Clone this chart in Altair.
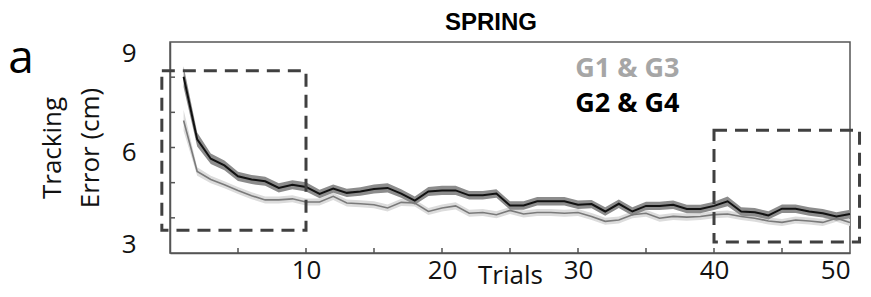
import altair as alt
import pandas as pd

trials = list(range(1, 51))
g24 = [8.01, 6.23, 5.68, 5.49, 5.18, 5.09, 5.04, 4.85, 4.94, 4.88,
       4.68, 4.83, 4.71, 4.75, 4.82, 4.85, 4.69, 4.49, 4.75, 4.78,
       4.78, 4.64, 4.64, 4.69, 4.35, 4.35, 4.47, 4.47, 4.47, 4.37,
       4.39, 4.18, 4.40, 4.18, 4.34, 4.34, 4.37, 4.25, 4.25, 4.34,
       4.47, 4.18, 4.16, 4.07, 4.26, 4.26, 4.18, 4.13, 4.04, 4.11]
g24_sem = [0.30, 0.20, 0.15, 0.14, 0.13, 0.13, 0.13, 0.13, 0.13, 0.13,
           0.12, 0.12, 0.12, 0.12, 0.13, 0.13, 0.12, 0.12, 0.13, 0.13,
           0.13, 0.12, 0.12, 0.12, 0.12, 0.12, 0.12, 0.12, 0.12, 0.12,
           0.12, 0.12, 0.12, 0.12, 0.12, 0.12, 0.12, 0.12, 0.12, 0.12,
           0.14, 0.12, 0.12, 0.12, 0.12, 0.12, 0.12, 0.12, 0.12, 0.12]
g13 = [6.77, 5.32, 5.09, 4.94, 4.78, 4.63, 4.51, 4.51, 4.54, 4.45,
       4.45, 4.61, 4.42, 4.40, 4.37, 4.28, 4.44, 4.42, 4.18, 4.28,
       4.34, 4.13, 4.15, 4.09, 4.21, 4.11, 4.15, 4.15, 4.13, 4.15,
       4.04, 3.90, 3.94, 4.09, 4.13, 3.99, 4.04, 4.02, 4.04, 4.09,
       4.11, 4.04, 3.99, 3.91, 3.87, 3.94, 3.91, 3.87, 3.99, 3.87]
g13_sem = [0.30, 0.12, 0.11, 0.10, 0.10, 0.10, 0.10, 0.10, 0.10, 0.10,
           0.10, 0.10, 0.10, 0.10, 0.10, 0.10, 0.10, 0.10, 0.10, 0.10,
           0.10, 0.10, 0.10, 0.10, 0.10, 0.10, 0.10, 0.10, 0.10, 0.10,
           0.10, 0.10, 0.10, 0.10, 0.10, 0.10, 0.10, 0.10, 0.10, 0.10,
           0.10, 0.10, 0.10, 0.10, 0.10, 0.10, 0.10, 0.10, 0.10, 0.10]

x_tick_values = [5, 10, 15, 20, 25, 30, 35, 40, 45]
y_tick_values = [4, 5, 6, 7, 8]
x_label_values = [10, 20, 30, 40, 50]
y_label_values = [3, 6, 9]

box_x1 = [-0.6, 40.0]
box_x2 = [10.0, 50.7]
box_y1 = [3.65, 3.31]
box_y2 = [8.18, 6.49]

legend_labels = ["G1 & G3", "G2 & G4"]
legend_colors = ["#a6a6a6", "#000000"]
legend_x = [29.8, 29.8]
legend_y = [8.23, 7.24]

FONT = "Open Sans"
W, H = 680, 211

rows = []
for i, t in enumerate(trials):
    rows.append({"trial": t, "group": "G1 & G3", "mean": g13[i],
                 "lo": g13[i] - g13_sem[i], "hi": g13[i] + g13_sem[i]})
    rows.append({"trial": t, "group": "G2 & G4", "mean": g24[i],
                 "lo": g24[i] - g24_sem[i], "hi": g24[i] + g24_sem[i]})
df = pd.DataFrame(rows)
df13 = df[df.group == "G1 & G3"]
df24 = df[df.group == "G2 & G4"]

xs = alt.Scale(domain=[0, 50], nice=False, zero=False)
ys = alt.Scale(domain=[3, 9], nice=False, zero=False)

x_enc = alt.X("trial:Q", scale=xs, axis=alt.Axis(
    values=x_label_values, tickSize=0, grid=False, labelFont=FONT,
    labelFontSize=26, labelColor="#111", labelPadding=4,
    domainColor="#555", domainWidth=1.5, title="Trials",
    titleFont=FONT, titleFontSize=26, titleFontWeight="normal",
    titleColor="#111", titleY=30, titleBaseline="alphabetic"))
y_enc = alt.Y("mean:Q", scale=ys, axis=alt.Axis(
    values=y_label_values, tickSize=0, grid=False, labelFont=FONT,
    labelFontSize=26, labelColor="#111", labelPadding=34,
    labelOffset={"expr": "datum.value == 9 ? 11 : (datum.value == 3 ? -9 : 5)"},
    domainColor="#555", domainWidth=1.5,
    title=["Tracking", "Error (cm)"], titleFont=FONT, titleFontSize=26,
    titleFontWeight="normal", titleColor="#111", titleLineHeight=38,
    titlePadding=18))

band13 = alt.Chart(df13).mark_area(color="#dcdcdc").encode(
    x=alt.X("trial:Q", scale=xs), y=alt.Y("lo:Q", scale=ys), y2="hi:Q")
band24 = alt.Chart(df24).mark_area(color="#8c8c8c").encode(
    x=alt.X("trial:Q", scale=xs), y=alt.Y("lo:Q", scale=ys), y2="hi:Q")
line13 = alt.Chart(df13).mark_line(color="#7a7a7a", strokeWidth=1.6).encode(
    x=x_enc, y=y_enc)
line24 = alt.Chart(df24).mark_line(color="#111111", strokeWidth=2).encode(
    x=alt.X("trial:Q", scale=xs), y=alt.Y("mean:Q", scale=ys))

xt = alt.Chart(pd.DataFrame({"v": x_tick_values})).mark_rule(
    color="#555", strokeWidth=1.5).encode(
    x=alt.X("v:Q", scale=xs), y=alt.value(H), y2=alt.value(H - 5))
yt = alt.Chart(pd.DataFrame({"v": y_tick_values})).mark_rule(
    color="#555", strokeWidth=1.5).encode(
    y=alt.Y("v:Q", scale=ys), x=alt.value(0), x2=alt.value(5))

boxes = alt.Chart(pd.DataFrame({"x1": box_x1, "x2": box_x2,
                                "y1": box_y1, "y2": box_y2})).mark_rect(
    fill="transparent", stroke="#404040", strokeWidth=3,
    strokeDash=[13, 8], clip=False).encode(
    x=alt.X("x1:Q", scale=xs), x2="x2:Q",
    y=alt.Y("y1:Q", scale=ys), y2="y2:Q")

legend = alt.Chart(pd.DataFrame({"t": legend_labels, "c": legend_colors,
                                 "x": legend_x, "y": legend_y})).mark_text(
    font=FONT, fontSize=27, fontWeight="bold", align="left",
    baseline="middle").encode(
    x=alt.X("x:Q", scale=xs), y=alt.Y("y:Q", scale=ys),
    text="t:N", color=alt.Color("c:N", scale=None))

panel = alt.Chart(pd.DataFrame({"t": ["a"]})).mark_text(
    font=FONT, fontSize=46, align="center", baseline="alphabetic",
    clip=False).encode(x=alt.value(-149), y=alt.value(31), text="t:N")

title = alt.Chart(pd.DataFrame({"t": ["SPRING"]})).mark_text(
    font="Liberation Sans", fontSize=24, fontWeight="bold", align="center",
    baseline="alphabetic", color="#000", clip=False).encode(
    x=alt.value(321), y=alt.value(-12), text="t:N")

chart = alt.layer(band13, band24, line13, line24, xt, yt, boxes, legend, panel,
                  title
).properties(
    width=W, height=H,
    autosize=alt.AutoSizeParams(type="none"),
    padding={"left": 162, "top": 34, "right": 13, "bottom": 38}
).configure_view(stroke="#555", strokeWidth=1.5)

chart.save("out.html", embed_options={"renderer": "svg", "actions": False})
